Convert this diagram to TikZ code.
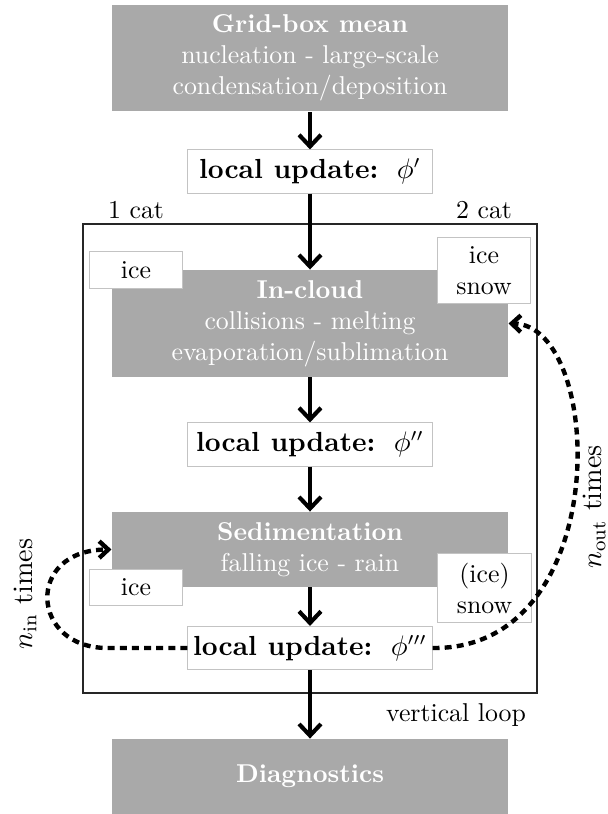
\documentclass[tikz,border=0pt]{standalone}
\usepackage{amsmath}
\usetikzlibrary{arrows.meta}

\definecolor{boxgray}{RGB}{169,169,169}
\definecolor{linegray}{RGB}{195,195,195}

\tikzset{
  graybox/.style={fill=boxgray, text=white, minimum width=153.5pt, minimum height=29pt,
    inner ysep=4pt, align=center},
  updbox/.style={draw=linegray, fill=white, minimum width=94.6pt, minimum height=16.7pt,
    inner sep=0pt, font=\fontsize{10.7}{12.8}\selectfont},
  catbox/.style={draw=linegray, fill=white, minimum width=36.4pt, minimum height=14pt,
    inner ysep=3.5pt, align=center},
  flow/.style={-{Straight Barb[length=4.5pt,width=8.5pt]}, line width=1.6pt},
  loopflow/.style={-{Straight Barb[length=3.5pt,width=6.5pt]}, line width=1.7pt,
    dash pattern=on 2.7pt off 2pt},
  looplabel/.style={rotate=90, inner sep=1pt, font=\fontsize{10.9}{13}\selectfont},
}

\begin{document}
\begin{tikzpicture}[x=0.3876pt,y=-0.3876pt]
    \useasboundingbox (0,0) rectangle (608,814);
    % vertical loop frame
    \draw[line width=0.4pt, black!85] (83,224) rectangle (537,693);
    \node (onecat) at (136,210) {1 cat};
    \node (twocat) at (484,210) {2 cat};
    \node (vloop) at (456,715.5) {vertical loop};

    % main column
    \node[graybox] (grid) at (310,58)
        {\textbf{Grid-box mean}\\nucleation - large-scale\\condensation/deposition};
    \node[updbox] (upd1) at (310,171.5) {\textbf{local update:}\ \ $\phi'$};
    \node[graybox] (incloud) at (310,323.5)
        {\textbf{In-cloud}\\collisions - melting\\evaporation/sublimation};
    \node[updbox] (upd2) at (310,444.5) {\textbf{local update:}\ \ $\phi''$};
    \node[graybox] (sedi) at (310,549.5)
        {\textbf{Sedimentation}\\falling ice - rain};
    \node[updbox] (upd3) at (310,648) {\textbf{local update:}\ \ $\phi'''$};
    \node[graybox] (diag) at (310,776.5) {\textbf{Diagnostics}};

    % categories
    \node[catbox] (ice1) at (136,270) {ice};
    \node[catbox] (icesnow1) at (484,270.5) {ice\\snow};
    \node[catbox] (ice2) at (136,587.5) {ice};
    \node[catbox] (icesnow2) at (484.5,588) {(ice)\\snow};

    \draw[flow] (grid) -- (upd1);
    \draw[flow] (upd1) -- (incloud);
    \draw[flow] (incloud) -- (upd2);
    \draw[flow] (upd2) -- (sedi);
    \draw[flow] (sedi) -- (upd3);
    \draw[flow] (upd3) -- (diag);

    % sub-stepping loops
    \draw[loopflow] (upd3.west) -- ++(-80,0)
        .. controls (30,648) and (25,550) .. (sedi.west);
    \draw[loopflow] (upd3.east)
        .. controls (615,650) and (605,325) .. (incloud.east);
    \node[looplabel] (nin) at (25,594) {$n_{\text{in}}$ times};
    \node[looplabel] (nout) at (594,507) {$n_{\text{out}}$ times};
\end{tikzpicture}
\end{document}
